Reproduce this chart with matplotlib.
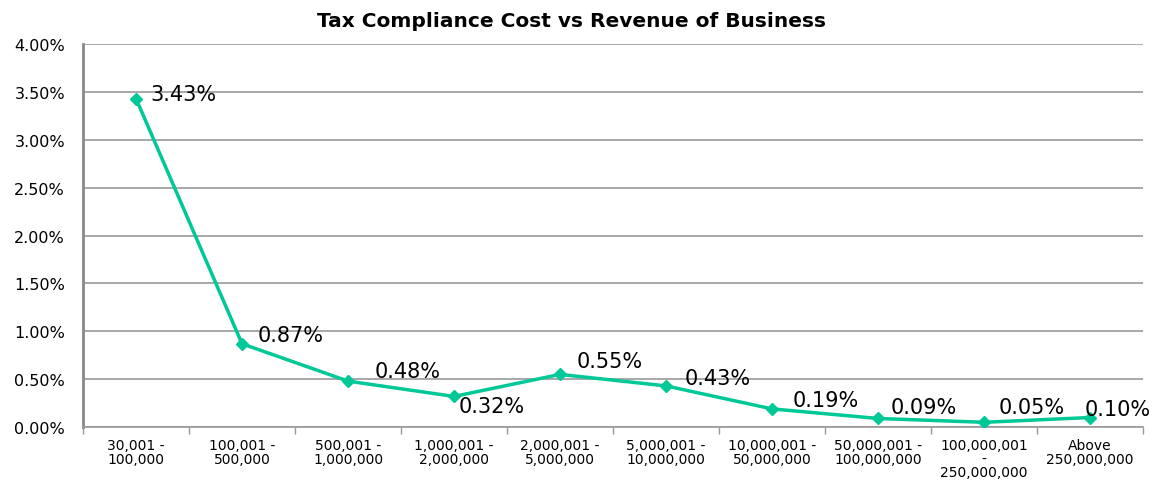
import matplotlib.pyplot as plt
import numpy as np
from matplotlib.ticker import FuncFormatter

plt.rcParams['font.family'] = ['DejaVu Sans']

categories = ["30,001 -\n100,000", "100,001 -\n500,000", "500,001 -\n1,000,000",
              "1,000,001 -\n2,000,000", "2,000,001 -\n5,000,000", "5,000,001 -\n10,000,000",
              "10,000,001 -\n50,000,000", "50,000,001 -\n100,000,000",
              "100,000,001\n-\n250,000,000", "Above\n250,000,000"]
cost_pct = [3.43, 0.87, 0.48, 0.32, 0.55, 0.43, 0.19, 0.09, 0.05, 0.10]
labels = ["3.43%", "0.87%", "0.48%", "0.32%", "0.55%", "0.43%", "0.19%", "0.09%", "0.05%", "0.10%"]

# label offsets in pixels (dx, dy)
offsets = [(14, 5), (16, 9), (27, 10), (5, -10), (17, 13), (19, 8), (21, 9), (13, 11), (15, 15), (-5, 9)]

color = "#00C896"

fig = plt.figure(figsize=(11.61, 4.81), dpi=100)
ax = fig.add_axes([0.0715, 0.110, 0.913, 0.7965])

x = np.arange(len(categories))
ax.plot(x, cost_pct, color=color, linewidth=2.5, marker="D", markersize=6, zorder=3)

for xi, yi, lab, (dx, dy) in zip(x, cost_pct, labels, offsets):
    ax.annotate(lab, (xi, yi), xytext=(dx, dy), textcoords="offset pixels",
                ha="left", va="center", fontsize=15, color="black")

ax.set_xlim(-0.5, len(categories) - 0.5)
ax.set_ylim(0, 4.0)
ax.set_yticks(np.arange(0, 4.01, 0.5))
ax.yaxis.set_major_formatter(FuncFormatter(lambda v, p: "{:.2f}%".format(v)))
ax.tick_params(axis="y", length=0, labelsize=11.5, pad=13)

ax.set_xticks(x)
ax.set_xticklabels(categories, fontsize=10, linespacing=0.95)
ax.set_xticks(np.arange(-0.5, len(categories), 1), minor=True)
ax.tick_params(axis="x", which="major", length=0, pad=8)
ax.tick_params(axis="x", which="minor", length=5, color="#999999", width=1)

ax.grid(axis="y", color="#999999", linewidth=1.2)
ax.set_axisbelow(True)
for s in ["top", "right"]:
    ax.spines[s].set_visible(False)
ax.spines["left"].set_color("#888888")
ax.spines["left"].set_linewidth(2)
ax.spines["bottom"].set_color("#999999")
ax.spines["bottom"].set_linewidth(1.2)

fig.text(0.492, 0.956, "Tax Compliance Cost vs Revenue of Business",
         ha="center", va="center", fontsize=14.5, fontweight="bold")

fig.savefig("out.png", dpi=100)
